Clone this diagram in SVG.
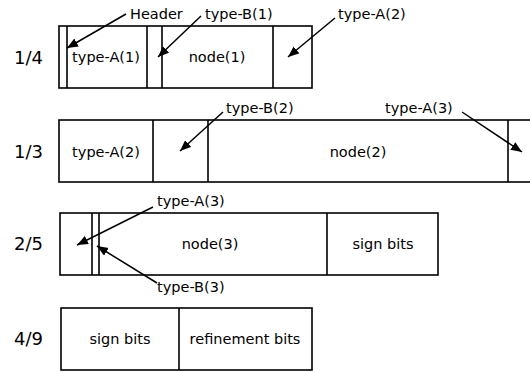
<svg xmlns="http://www.w3.org/2000/svg" width="530" height="372" viewBox="0 0 530 372">
  <style>
    .box { fill: #fff; stroke: #000; stroke-width: 1.6; }
    .div { stroke: #000; stroke-width: 1.6; fill: none; }
    .lbl { font-family: "DejaVu Sans", "Liberation Sans", sans-serif; font-size: 14.5px; fill: #000; }
    .mid { text-anchor: middle; }
    .ratio { font-family: "DejaVu Sans", "Liberation Sans", sans-serif; font-size: 18px; fill: #000; }
    .arrow { stroke: #000; stroke-width: 1.5; fill: none; marker-end: url(#head); }
  </style>
  <defs>
    <marker id="head" markerUnits="userSpaceOnUse" markerWidth="12" markerHeight="10" refX="11" refY="4.5" orient="auto">
      <path d="M0,0 L11,4.5 L0,9 Z" fill="#000"/>
    </marker>
  </defs>
  <rect width="530" height="372" fill="#fff"/>

  <!-- pass 1/4 -->
  <g id="row-1-4">
    <text class="ratio" x="14" y="64">1/4</text>
    <rect class="box" x="59" y="26" width="253" height="62"/>
    <path class="div" d="M67,26 V88 M147,26 V88 M162,26 V88 M273,26 V88"/>
    <text class="lbl mid" x="106" y="62">type-A(1)</text>
    <text class="lbl mid" x="217" y="62">node(1)</text>
  </g>

  <!-- pass 1/3 -->
  <g id="row-1-3">
    <text class="ratio" x="14" y="158">1/3</text>
    <rect class="box" x="59" y="120" width="480" height="62"/>
    <path class="div" d="M153,120 V182 M208,120 V182 M508,120 V182"/>
    <text class="lbl mid" x="106" y="157">type-A(2)</text>
    <text class="lbl mid" x="358" y="157">node(2)</text>
  </g>

  <!-- pass 2/5 -->
  <g id="row-2-5">
    <text class="ratio" x="14" y="250">2/5</text>
    <rect class="box" x="60" y="213" width="378" height="62"/>
    <path class="div" d="M92,213 V275 M99,213 V275 M327,213 V275"/>
    <text class="lbl mid" x="210" y="249">node(3)</text>
    <text class="lbl mid" x="383" y="249">sign bits</text>
  </g>

  <!-- pass 4/9 -->
  <g id="row-4-9">
    <text class="ratio" x="14" y="345">4/9</text>
    <rect class="box" x="61" y="308" width="251" height="62"/>
    <path class="div" d="M179,308 V370"/>
    <text class="lbl mid" x="120" y="344">sign bits</text>
    <text class="lbl mid" x="245" y="344">refinement bits</text>
  </g>

  <!-- callout labels -->
  <g id="labels">
    <text class="lbl" x="130" y="19">Header</text>
    <text class="lbl" x="205" y="19">type-B(1)</text>
    <text class="lbl" x="338" y="19">type-A(2)</text>
    <text class="lbl" x="226" y="113">type-B(2)</text>
    <text class="lbl" x="385" y="113">type-A(3)</text>
    <text class="lbl" x="157" y="206">type-A(3)</text>
    <text class="lbl" x="157" y="292">type-B(3)</text>
  </g>

  <!-- connectors -->
  <g id="connectors">
    <line class="arrow" x1="126" y1="14" x2="67" y2="48"/>
    <line class="arrow" x1="201" y1="16" x2="158" y2="57"/>
    <line class="arrow" x1="335" y1="18" x2="288" y2="57"/>
    <line class="arrow" x1="223" y1="112" x2="180" y2="151"/>
    <line class="arrow" x1="462" y1="112" x2="522" y2="152"/>
    <line class="arrow" x1="153" y1="207" x2="77" y2="245"/>
    <line class="arrow" x1="157" y1="283" x2="97" y2="246"/>
  </g>
</svg>
